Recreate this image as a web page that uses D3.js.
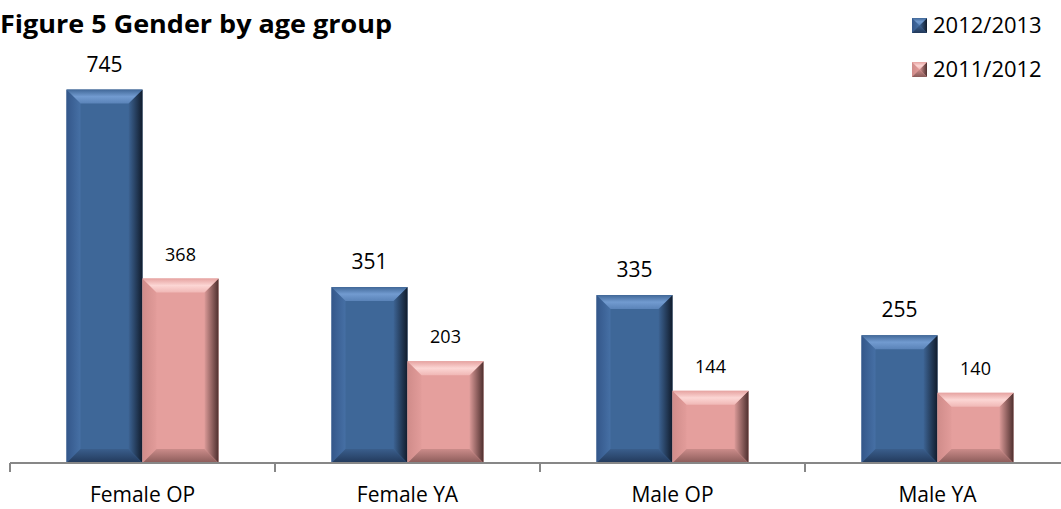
<!DOCTYPE html>
<html>
<head>
<meta charset="utf-8">
<script src="https://cdn.jsdelivr.net/npm/d3@7"></script>
<style>
  html, body { margin: 0; padding: 0; background: white; }
  svg { display: block; font-family: "Open Sans", Lato, sans-serif; }
</style>
</head>
<body>
<div id="chart"></div>
<script>
var categories = ["Female OP", "Female YA", "Male OP", "Male YA"];
var seriesNames = ["2012/2013", "2011/2012"];
var values2012_13 = [745, 351, 335, 255];
var values2011_12 = [368, 203, 144, 140];

var width = 1061, height = 509;

// colour sets for the bevelled bars
var palettes = {
  "2012/2013": { face: "#3E6798", top: ["#416898", "#729BD0", "#5A83B8"], left: ["#34578A", "#4670A5"],
                 right: ["#3D6494", "#111C2C"], bottom: ["#3A5E8C", "#22395A"], label: 21 },
  "2011/2012": { face: "#E59F9D", top: ["#E6A3A1", "#FCD6D4", "#F0B7B5"], left: ["#D08C8A", "#E29C9A"],
                 right: ["#DB9A98", "#4E2F2E"], bottom: ["#CB8C8A", "#8A5B59"], label: 18 }
};

var svg = d3.select("#chart").append("svg")
  .attr("width", width).attr("height", height)
  .style("background", "white");

var defs = svg.append("defs");

function addGrad(id, stops, vertical) {
  var g = defs.append("linearGradient").attr("id", id)
    .attr("x1", 0).attr("y1", 0)
    .attr("x2", vertical ? 0 : 1).attr("y2", vertical ? 1 : 0);
  stops.forEach(function (c, i) {
    g.append("stop").attr("offset", (i / (stops.length - 1) * 100) + "%").attr("stop-color", c);
  });
}

seriesNames.forEach(function (s, i) {
  var p = palettes[s];
  addGrad("top" + i, p.top, true);
  addGrad("left" + i, p.left, false);
  addGrad("right" + i, p.right, false);
  addGrad("bottom" + i, p.bottom, true);
});

var x0 = d3.scaleBand().domain(categories).range([10, 1070]).paddingInner(0).paddingOuter(0);
var x1 = d3.scaleBand().domain(seriesNames).range([0, x0.bandwidth()]).paddingInner(0).paddingOuter(0.743);
var y = d3.scaleLinear().domain([0, 800]).range([463, 62]);

var rows = categories.map(function (c, i) {
  return { cat: c, vals: [
    { s: seriesNames[0], si: 0, v: values2012_13[i] },
    { s: seriesNames[1], si: 1, v: values2011_12[i] }
  ] };
});

function bevelBar(g, x, yy, w, h, si, b) {
  var p = palettes[seriesNames[si]];
  b = Math.min(b, w / 2, h / 2);
  g.append("rect").attr("x", x).attr("y", yy).attr("width", w).attr("height", h).attr("fill", p.face);
  var pts = {
    top: [[x, yy], [x + w, yy], [x + w - b, yy + b], [x + b, yy + b]],
    left: [[x, yy], [x + b, yy + b], [x + b, yy + h - b], [x, yy + h]],
    right: [[x + w, yy], [x + w, yy + h], [x + w - b, yy + h - b], [x + w - b, yy + b]],
    bottom: [[x, yy + h], [x + w, yy + h], [x + w - b, yy + h - b], [x + b, yy + h - b]]
  };
  ["left", "right", "bottom", "top"].forEach(function (k) {
    g.append("polygon").attr("points", pts[k].map(function (q) { return q.join(","); }).join(" "))
      .attr("fill", "url(#" + k + si + ")");
  });
}

// bars
var groups = svg.selectAll("g.cat").data(rows).enter().append("g").attr("class", "cat")
  .attr("transform", function (d) { return "translate(" + x0(d.cat) + ",0)"; });

groups.each(function (d) {
  var g = d3.select(this);
  d.vals.forEach(function (e) {
    bevelBar(g.append("g"), x1(e.s), y(e.v), x1.bandwidth(), y(0) - y(e.v), e.si, 14);
  });
});

// data labels
groups.selectAll("text.val").data(function (d) { return d.vals; })
  .enter().append("text").attr("class", "val")
  .attr("x", function (e) { return x1(e.s) + x1.bandwidth() / 2; })
  .attr("y", function (e) { return y(e.v) - 18; })
  .attr("text-anchor", "middle")
  .attr("font-size", function (e) { return palettes[e.s].label + "px"; })
  .attr("fill", "#000")
  .text(function (e) { return e.v; });

// axis
var axisG = svg.append("g").attr("transform", "translate(0," + y(0) + ")");
axisG.append("line").attr("x1", x0.range()[0]).attr("x2", x0.range()[1])
  .attr("stroke", "#878787").attr("stroke-width", 2);
var edges = categories.map(function (c) { return x0(c); }).concat([x0.range()[1]]);
axisG.selectAll("line.tick").data(edges).enter().append("line").attr("class", "tick")
  .attr("x1", function (d) { return d; }).attr("x2", function (d) { return d; })
  .attr("y1", 0).attr("y2", 9).attr("stroke", "#878787").attr("stroke-width", 2);

var xAxis = d3.axisBottom(x0).tickSize(0).tickPadding(0);
var ax = svg.append("g").attr("transform", "translate(0,502)").call(xAxis);
ax.select(".domain").remove();
ax.selectAll("text").attr("font-size", "21px").attr("font-family", "'Open Sans', sans-serif")
  .attr("fill", "#000").attr("dy", 0).attr("y", 0);

// title
svg.append("text").attr("x", 0).attr("y", 33)
  .attr("font-size", "25px").attr("font-weight", "bold").attr("fill", "#000")
  .attr("textLength", 392).attr("lengthAdjust", "spacingAndGlyphs")
  .text("Figure 5  Gender by age group");

// legend
var legend = svg.selectAll("g.legend").data(seriesNames).enter().append("g").attr("class", "legend")
  .attr("transform", function (d, i) { return "translate(912," + (18 + i * 44) + ")"; });
legend.each(function (d, i) {
  bevelBar(d3.select(this), 0, 0, 15, 15, i, 7.5);
});
legend.append("text").attr("x", 21).attr("y", 15)
  .attr("font-size", "22px").attr("fill", "#000")
  .text(function (d) { return d; });
</script>
</body>
</html>
